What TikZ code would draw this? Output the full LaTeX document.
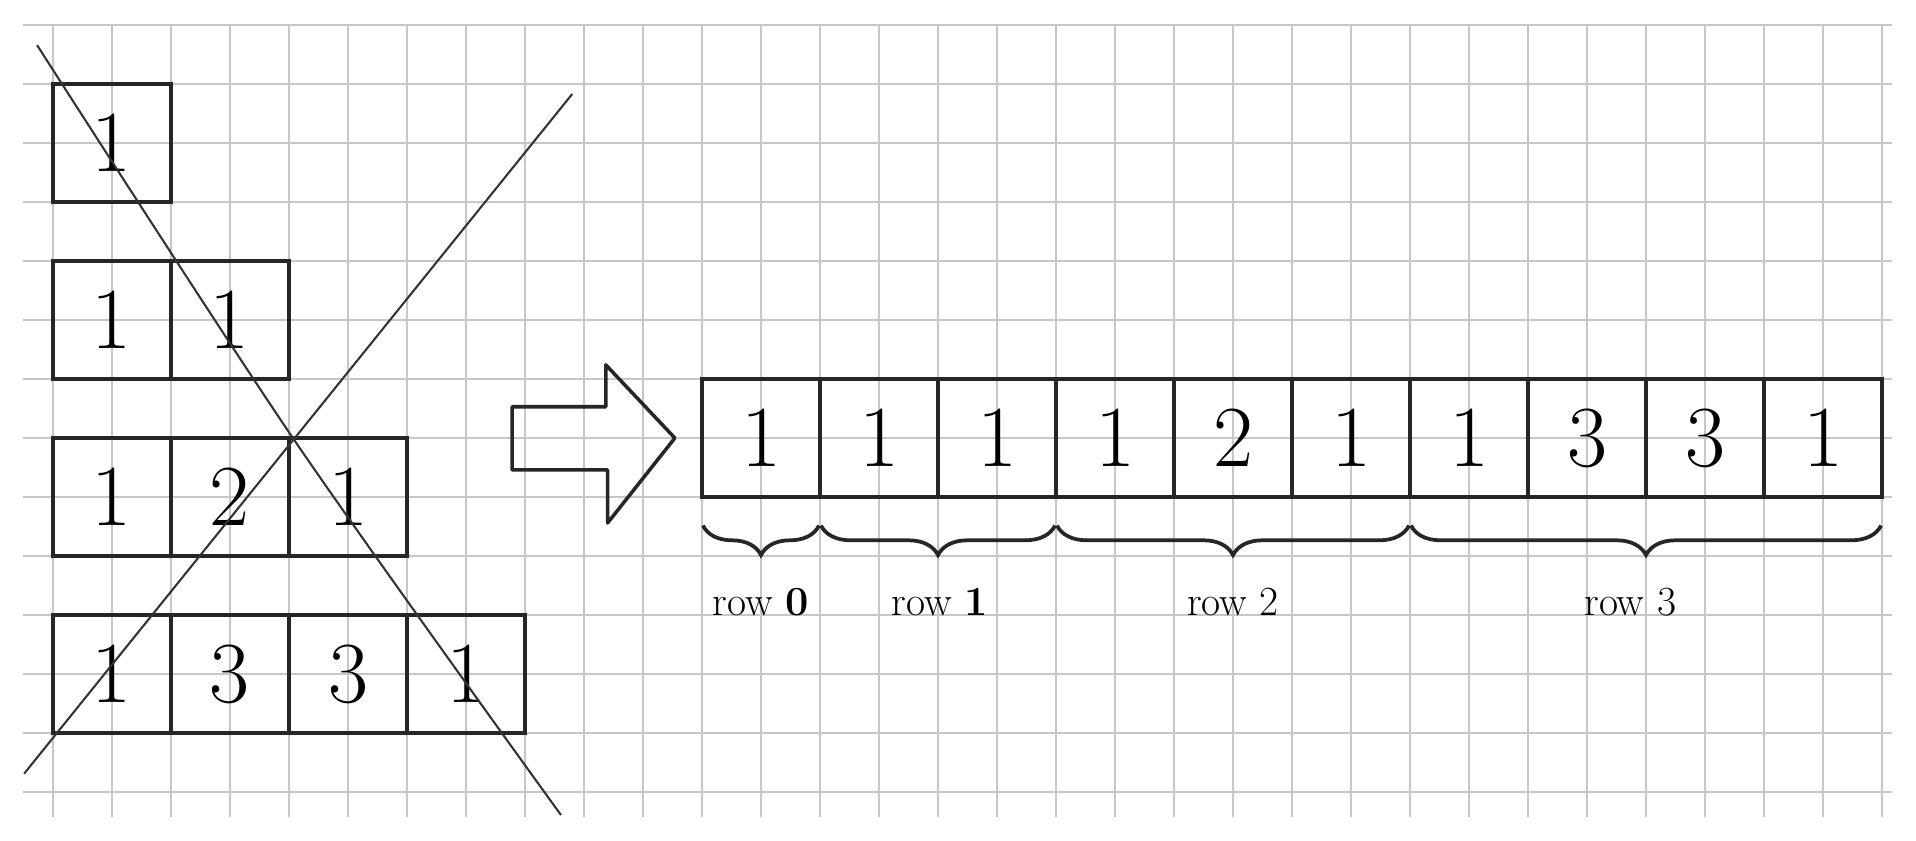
\documentclass[tikz,border=0pt]{standalone}
\usetikzlibrary{decorations.pathreplacing}
\begin{document}
\begin{tikzpicture}[
    gridline/.style={black!22,line width=1.1pt},
    cell/.style={draw=black!85,line width=1.9pt,minimum size=2cm,inner sep=0pt,font=\fontsize{42}{50}\selectfont},
    cross/.style={black!80,line width=1pt},
    brace/.style={black!85,line width=1.8pt,decorate,decoration={brace,mirror,amplitude=0.5cm}},
    rowlabel/.style={font=\fontsize{20}{24}\selectfont}]
    \useasboundingbox[fill=white] (-0.898,-0.814) rectangle (31.576,13.424);
    % squared paper
    \foreach \y in {0,...,13} \draw[gridline] (-0.51,\y)--(31.17,\y);
    \foreach \x in {0,...,31} \draw[gridline] (\x,-0.42)--(\x,13);
    % the triangle, one row of boxes per line
    \foreach \r/\vals in {0/{1},1/{1,1},2/{1,2,1},3/{1,3,3,1}}
        \foreach \v [count=\k from 0] in \vals
            \node[cell] (t-\r-\k) at (1+2*\k,11-3*\r) {\v};
    % crossed out
    \draw[cross] plot[smooth] coordinates {(-0.27,12.66) (4.1,5.95) (8.61,-0.39)};
    \draw[cross] (-0.49,0.31)--(8.8,11.83);
    % big arrow
    \draw[line width=1.7pt,black!85,line join=round] (7.78,5.46)--(7.78,6.53)--(9.37,6.53)--(9.37,7.24)--(10.54,6)--(9.4,4.56)--(9.4,5.46)--cycle;
    % flat array
    \foreach \v [count=\i from 0] in {1,1,1,1,2,1,1,3,3,1}
        \node[cell] (a\i) at (12+2*\i,6) {\v};
    % braces
    \foreach \first/\last in {0/0,1/2,3/5,6/9}
        \draw[brace] ([xshift=.05cm,yshift=-.45cm]a\first.south west)--([xshift=-.05cm,yshift=-.45cm]a\last.south east);
    \node[rowlabel] (row0) at ([yshift=-1.75cm]a0.south) {row \textbf{0}};
    \node[rowlabel] (row1) at ([yshift=-1.75cm]a1.south east) {row \textbf{1}};
    \node[rowlabel] (row2) at ([yshift=-1.75cm]a4.south) {row 2};
    \node[rowlabel] (row3) at ([xshift=-.3cm,yshift=-1.75cm]a7.south east) {row 3};
\end{tikzpicture}
\end{document}
